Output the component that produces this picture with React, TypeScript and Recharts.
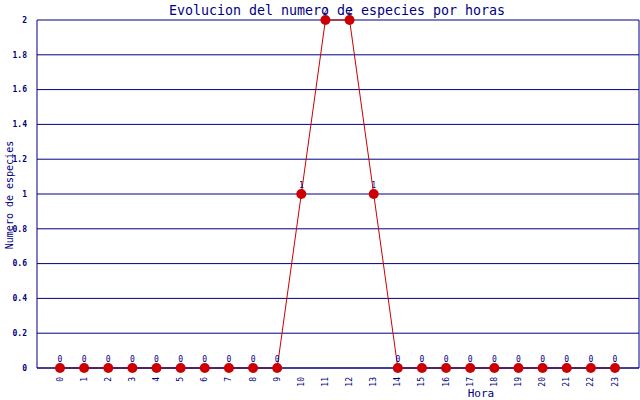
import React from 'react';
import {
  LineChart,
  Line,
  XAxis,
  YAxis,
  CartesianGrid,
  LabelList,
} from 'recharts';

const horas = ['0', '1', '2', '3', '4', '5', '6', '7', '8', '9', '10', '11', '12', '13', '14', '15', '16', '17', '18', '19', '20', '21', '22', '23'];
const especies = [0, 0, 0, 0, 0, 0, 0, 0, 0, 0, 1, 2, 2, 1, 0, 0, 0, 0, 0, 0, 0, 0, 0, 0];
const yTicks = [0, 0.2, 0.4, 0.6, 0.8, 1, 1.2, 1.4, 1.6, 1.8, 2];

const data = horas.map((h, i) => ({ hora: h, n: especies[i] }));

const NAVY = '#000080';
const RED = '#cc0000';
const MONO = '"DejaVu Sans Mono", monospace';

const XTick = (props: any) => {
  const { x, y, payload } = props;
  return (
    <text
      x={x}
      y={y}
      transform={`rotate(-90 ${x} ${y})`}
      textAnchor="end"
      dominantBaseline="central"
      fontFamily={MONO}
      fontSize={8}
      fill={NAVY}
    >
      {payload.value}
    </text>
  );
};

export default function App() {
  return (
    <div style={{ position: 'absolute', left: 0, top: 0, width: 640, height: 400, background: '#fff' }}>
      <LineChart
        width={640}
        height={400}
        data={data}
        margin={{ top: 20, right: 0, bottom: 0, left: 0 }}
      >
        <text x={337} y={10} textAnchor="middle" dominantBaseline="central" fontFamily={MONO} fontSize={13.3} fill={NAVY}>
          Evolucion del numero de especies por horas
        </text>
        <text
          x={9}
          y={195}
          transform="rotate(-90 9 195)"
          textAnchor="middle"
          dominantBaseline="central"
          fontFamily={MONO}
          fontSize={10}
          fill={NAVY}
        >
          Numero de especies
        </text>
        <text x={481} y={393} textAnchor="middle" dominantBaseline="central" fontFamily={MONO} fontSize={11} fill={NAVY}>
          Hora
        </text>
        <CartesianGrid horizontal vertical={false} stroke={NAVY} strokeWidth={1} />
        <XAxis
          dataKey="hora"
          scale="point"
          padding={{ left: 23, right: 24 }}
          height={32}
          stroke={NAVY}
          tickLine={false}
          tick={<XTick />}
          tickMargin={3}
          interval={0}
        />
        <YAxis
          domain={[0, 2]}
          ticks={yTicks}
          width={37}
          stroke={NAVY}
          tickLine={false}
          tickMargin={4}
          tick={{ fontFamily: MONO, fontSize: 8, fontWeight: 700, fill: NAVY }}
          tickFormatter={(v: number) => String(Math.round(v * 10) / 10)}
        />
        <YAxis yAxisId="r" orientation="right" width={1} tick={false} tickLine={false} stroke={NAVY} />
        <Line
          type="linear"
          dataKey="n"
          stroke={RED}
          strokeWidth={1}
          dot={{ r: 5, fill: RED, stroke: RED, strokeWidth: 0 }}
          isAnimationActive={false}
        >
          <LabelList dataKey="n" position="top" offset={6} fontFamily={MONO} fontSize={8} fill={NAVY} />
        </Line>
      </LineChart>
    </div>
  );
}
